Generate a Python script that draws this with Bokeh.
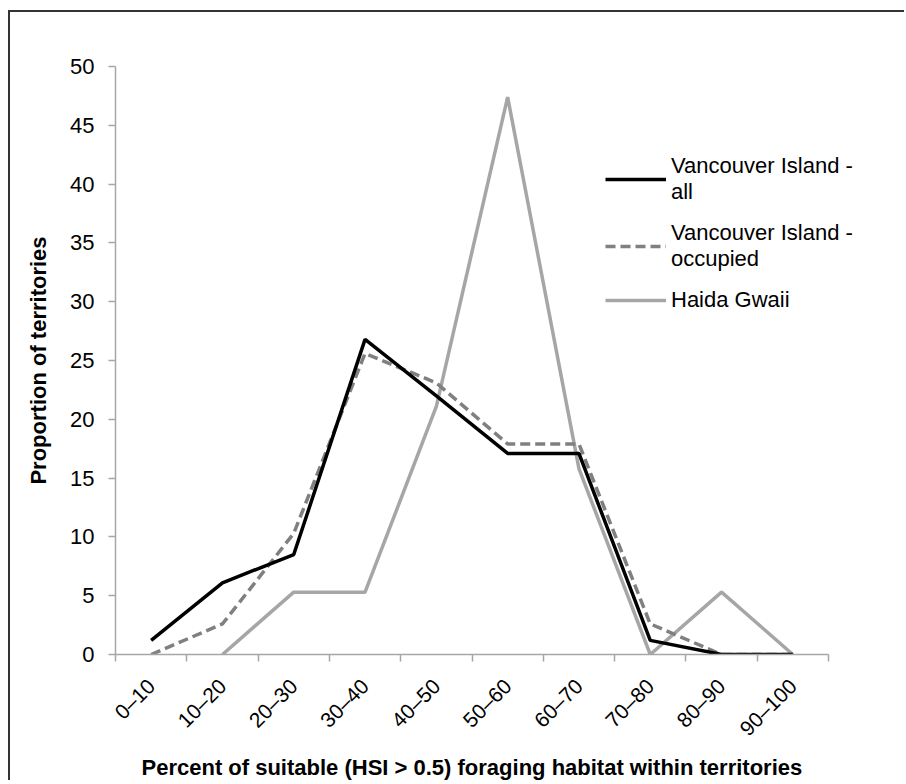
import math
import numpy as np
from bokeh.plotting import figure
from bokeh.models import (Range1d, FixedTicker, Legend, LegendItem, ColumnDataSource, Title)
from bokeh.embed import file_html
from bokeh.resources import INLINE

# ---- data ----
categories = ["0\u201310", "10\u201320", "20\u201330", "30\u201340", "40\u201350",
              "50\u201360", "60\u201370", "70\u201380", "80\u201390", "90\u2013100"]
vi_all = [1.2, 6.1, 8.5, 26.8, 22.0, 17.1, 17.1, 1.2, 0.0, 0.0]
vi_occupied = [0.0, 2.6, 10.3, 25.6, 23.1, 17.9, 17.9, 2.6, 0.0, 0.0]
haida_gwaii = [np.nan, 0.0, 5.3, 5.3, 21.1, 47.4, 15.8, 0.0, 5.3, 0.0]
y_ticks = [0, 5, 10, 15, 20, 25, 30, 35, 40, 45, 50]

x_title = "Percent of suitable (HSI > 0.5) foraging habitat within territories"
y_title = "Proportion of territories"
series_names = ["Vancouver Island -\nall", "Vancouver Island -\noccupied", "Haida Gwaii"]

FONT = "Liberation Sans"

n = len(categories)
xc = [i + 0.5 for i in range(n)]
src = ColumnDataSource(dict(x=xc, all=vi_all, occ=vi_occupied, hg=haida_gwaii))

# frame extends past the last category so the legend can sit over it
x_end = n * 759.0 / 713.0

p = figure(width=896, height=770, output_backend="svg", toolbar_location=None,
           x_range=Range1d(0, x_end), y_range=Range1d(0, 50),
           min_border_left=105, min_border_right=32, min_border_top=54,
           min_border_bottom=126)
p.styles = {"border-left": "2px solid #333333", "border-top": "2px solid #333333",
            "margin-top": "10px", "margin-left": "8px"}
p.grid.visible = False
p.outline_line_color = None
p.background_fill_color = "white"
p.border_fill_color = "white"

# x axis
xa = p.xaxis[0]
xa.bounds = (0, n)
xa.ticker = FixedTicker(ticks=xc, minor_ticks=list(range(n + 1)))
xa.major_label_overrides = {xc[i]: categories[i] for i in range(n)}
xa.major_tick_out = 0
xa.major_tick_in = 0
xa.minor_tick_out = 7
xa.minor_tick_in = 0
xa.minor_tick_line_color = "#a6a6a6"
xa.minor_tick_line_width = 1.5
xa.axis_line_color = "#a6a6a6"
xa.axis_line_width = 1.5
xa.major_label_orientation = math.pi / 4
xa.major_label_text_font = FONT
xa.major_label_text_font_size = "21px"
xa.major_label_text_color = "#000000"
xa.major_label_standoff = 21

# x title centred under the category axis (not the wider frame)
p.add_layout(Title(text=x_title, align="left", offset=26, standoff=4,
                   vertical_align="middle",
                   text_font=FONT, text_font_size="22px", text_font_style="bold",
                   text_color="#000000"), "below")

# y axis
ya = p.yaxis[0]
ya.ticker = FixedTicker(ticks=y_ticks)
ya.minor_tick_line_color = None
ya.major_tick_out = 7
ya.major_tick_in = 0
ya.major_tick_line_color = "#a6a6a6"
ya.major_tick_line_width = 1.5
ya.axis_line_color = "#a6a6a6"
ya.axis_line_width = 1.5
ya.major_label_text_font = FONT
ya.major_label_text_font_size = "22px"
ya.major_label_text_color = "#000000"
ya.major_label_standoff = 14
ya.axis_label = y_title
ya.axis_label_text_font = FONT
ya.axis_label_text_font_size = "22px"
ya.axis_label_text_font_style = "bold"
ya.axis_label_text_color = "#000000"
ya.axis_label_standoff = 16

r_hg = p.line("x", "hg", source=src, line_color="#a6a6a6", line_width=3.5)
r_occ = p.line("x", "occ", source=src, line_color="#808080", line_width=3.5,
               line_dash="10 5")
r_all = p.line("x", "all", source=src, line_color="#000000", line_width=3.5)

legend = Legend(items=[LegendItem(label=series_names[0], renderers=[r_all]),
                       LegendItem(label=series_names[1], renderers=[r_occ]),
                       LegendItem(label=series_names[2], renderers=[r_hg])],
                location=(490, 341), padding=0, margin=0, spacing=15,
                glyph_width=61, label_standoff=5,
                label_text_font=FONT, label_text_font_size="22px",
                label_text_color="#000000",
                border_line_color=None, background_fill_alpha=0)
p.add_layout(legend, "center")

open("out.html", "w").write(file_html(p, INLINE))
